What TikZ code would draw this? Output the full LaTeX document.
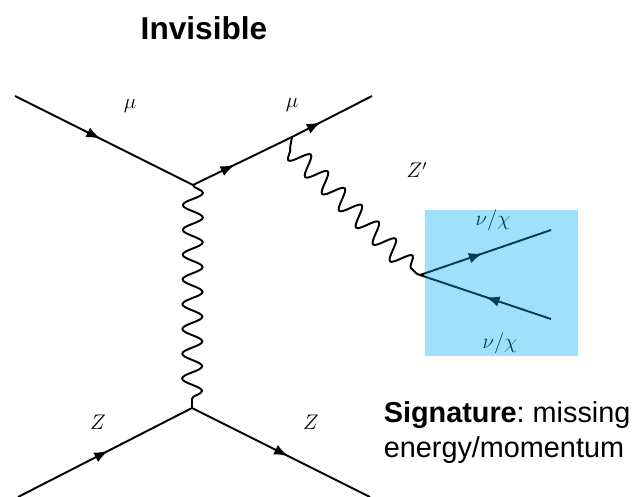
\documentclass[tikz,border=0pt]{standalone}
\usepackage{amsmath}
\usepackage{fontspec}
\setmainfont{Liberation Sans}
\usetikzlibrary{arrows.meta, decorations.pathmorphing, decorations.markings}

\tikzset{
    fermion/.style={line width=1.1pt, postaction={decorate}, decoration={markings,
        mark=at position #1 with {\arrow{Latex[length=8pt,width=6pt]}}}},
    boson/.style={line width=1.1pt, decorate, decoration={snake, amplitude=#1}},
    boson/.default=0.2cm,
    label/.style={font=\large},
    sigtext/.style={anchor=base west, inner sep=0pt, font=\fontsize{16.4}{18}\selectfont\frenchspacing},
}

\begin{document}
\begin{tikzpicture}[x=0.02cm, y=-0.02cm]
    \useasboundingbox (0,0) rectangle (633,497);

    % --- 顶点 ---
    \coordinate (inmu) at (15,96);
    \coordinate (outmu) at (372,96);
    \coordinate (vtxtop) at (193,185);
    \coordinate (vtxrad) at (292,137);
    \coordinate (vtxdec) at (420,275);
    \coordinate (outa) at (551,230);
    \coordinate (outb) at (551,319);
    \coordinate (vtxbot) at (192,408);
    \coordinate (inz) at (18,497);
    \coordinate (outz) at (370,497);
    % Z' 波浪线的轴
    \coordinate (wavea) at (290,148);
    \coordinate (waveb) at (417,274);

    % 标题
    \node[font=\bfseries\fontsize{18}{20}\selectfont] (title) at (204,28) {Invisible};

    % 费米子线
    \draw[fermion=0.48] (inmu) -- (vtxtop);
    \draw[fermion=0.42] (vtxtop) -- (vtxrad);
    \draw[fermion=0.36] (vtxrad) -- (outmu);
    \draw[fermion=0.52] (inz) -- (vtxbot);
    \draw[fermion=0.54] (vtxbot) -- (outz);
    \draw[fermion=0.48] (vtxdec) -- (outa);
    \draw[fermion=0.5] (outb) -- (vtxdec);

    % 规范玻色子
    \draw[boson=0.2cm, decoration={segment length=0.4956cm}] (vtxtop) -- (vtxbot);
    \draw[line width=1.1pt] (vtxrad) -- (wavea);
    \draw[boson=-0.2cm, decoration={segment length=0.478cm}] (wavea) -- (waveb);
    \draw[line width=1.1pt] (waveb) -- (vtxdec);

    % 标注
    \node[label] (mua) at (130,106) {$\mu$};
    \node[label] (mub) at (292,105) {$\mu$};
    \node[label] (zp) at (417,170) {$Z'$};
    \node[label] (za) at (98,422) {$Z$};
    \node[label] (zb) at (311,422) {$Z$};
    \node[label] (nua) at (493,220) {$\nu/\chi$};
    \node[label] (nub) at (500,343) {$\nu/\chi$};

    % 蓝色方框
    \fill[fill={rgb,255:red,0;green,171;blue,241}, fill opacity=0.373] (425,210) rectangle (578,356);

    % 说明文字
    \node[sigtext] (sig) at (383.5,422) {\textbf{Signature}: missing};
    \node[sigtext] (sigb) at (383.5,457) {energy/momentum};
\end{tikzpicture}
\end{document}
